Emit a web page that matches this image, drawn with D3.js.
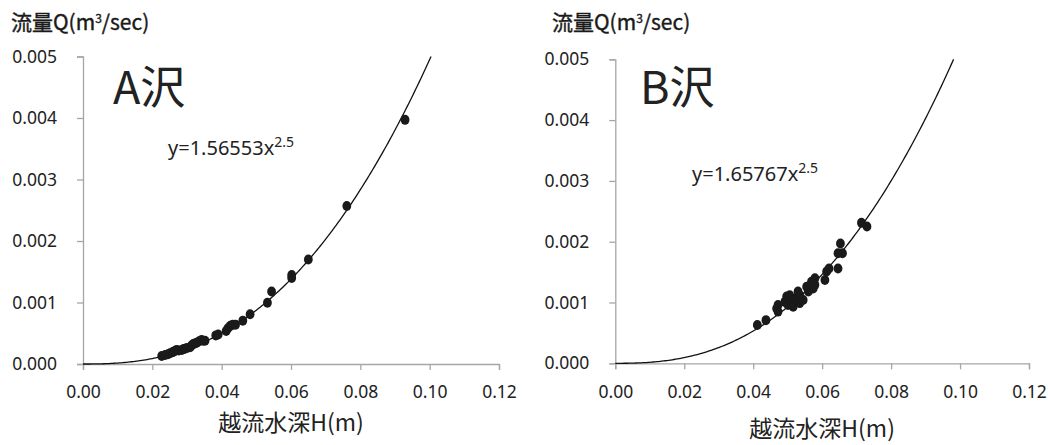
<!DOCTYPE html>
<html><head><meta charset="utf-8">
<script src="https://cdn.jsdelivr.net/npm/d3@7"></script>
<style>
html,body{margin:0;padding:0;background:#fff;}
svg{display:block;}
</style></head>
<body>
<svg id="chart" width="1048" height="445"></svg>
<script>
// ---- data ----
const siteNames = ["A沢", "B沢"];
const coefficients = [1.56553, 1.65767];
const exponent = 2.5;
const equationTexts = ["y=1.56553x", "y=1.65767x"];
const exponentText = "2.5";
const yAxisTitleParts = ["流量Q(m", "3", "/sec)"];
const xAxisTitle = "越流水深H(m)";
const xTickValues = [0, 0.02, 0.04, 0.06, 0.08, 0.10, 0.12];
const xTickLabels = ["0.00", "0.02", "0.04", "0.06", "0.08", "0.10", "0.12"];
const yTickValues = [0, 0.001, 0.002, 0.003, 0.004, 0.005];
const yTickLabels = ["0.000", "0.001", "0.002", "0.003", "0.004", "0.005"];

const hA = [0.0227,0.0237,0.0245,0.0251,0.0258,0.0261,0.0266,0.0270,0.0276,0.0285,0.0290,0.0294,0.0300,0.0309,0.0313,0.0318,0.0323,0.0328,0.0335,0.0342,0.0346,0.0352,0.0383,0.0390,0.0413,0.0418,0.0425,0.0432,0.0440,0.0461,0.0482,0.0532,0.0544,0.0602,0.0602,0.0650,0.0761,0.0929];
const qA = [0.000130,0.000146,0.000160,0.000174,0.000190,0.000200,0.000215,0.000228,0.000220,0.000228,0.000245,0.000249,0.000262,0.000271,0.000300,0.000325,0.000335,0.000347,0.000370,0.000390,0.000380,0.000379,0.000465,0.000480,0.000537,0.000580,0.000620,0.000640,0.000640,0.000705,0.000808,0.000997,0.001180,0.001400,0.001447,0.001700,0.002570,0.003970];

const hB = [0.0412,0.0437,0.0468,0.0472,0.0472,0.0492,0.0497,0.0501,0.0506,0.0511,0.0516,0.0526,0.0530,0.0535,0.0535,0.0545,0.0555,0.0560,0.0569,0.0574,0.0579,0.0579,0.0608,0.0613,0.0620,0.0646,0.0646,0.0659,0.0653,0.0714,0.0730];
const qB = [0.00063,0.00071,0.00090,0.00096,0.00085,0.00101,0.00110,0.00096,0.00112,0.00104,0.00093,0.00107,0.00118,0.00112,0.00099,0.00104,0.00126,0.00118,0.00134,0.00123,0.00140,0.00129,0.00137,0.00151,0.00156,0.00156,0.00181,0.00181,0.00197,0.00231,0.00225];

// ---- layout ----
const panels = [
  {name: siteNames[0], coef: coefficients[0], eq: equationTexts[0], h: hA, q: qA,
   x0: 83, x1: 499, y0: 364, y1: 56.5,
   yTitleX: 11, nameX: 113, nameY: 104, eqX: 168, eqY: 155, xTitleY: 431},
  {name: siteNames[1], coef: coefficients[1], eq: equationTexts[1], h: hB, q: qB,
   x0: 615.3, x1: 1029, y0: 363.3, y1: 59.3,
   yTitleX: 552, nameX: 640, nameY: 104, eqX: 692, eqY: 181, xTitleY: 437}
];

const svg = d3.select("#chart");
const axisColor = "#a6a6a6";
const numFont = "'Noto Sans', 'Open Sans', sans-serif";
const cjkFont = "'Noto Sans CJK JP', 'Noto Sans', sans-serif";

panels.forEach(p => {
  const x = d3.scaleLinear().domain([0, 0.12]).range([p.x0, p.x1]);
  const y = d3.scaleLinear().domain([0, 0.005]).range([p.y0, p.y1]);
  const g = svg.append("g");

  // y axis
  const yAxis = d3.axisLeft(y).tickValues(yTickValues)
    .tickFormat((d, i) => yTickLabels[i]).tickSizeOuter(0).tickSize(6).tickPadding(20);
  const ya = g.append("g").attr("transform", `translate(${p.x0},0)`).call(yAxis);
  ya.select(".domain").attr("stroke", axisColor).attr("stroke-width", 1.3);
  ya.selectAll(".tick line").attr("stroke", axisColor).attr("stroke-width", 1.3);
  ya.selectAll(".tick text").attr("fill", "#222").style("font-family", numFont).style("font-size", "17.5px");

  // x axis
  const xAxis = d3.axisBottom(x).tickValues(xTickValues)
    .tickFormat((d, i) => xTickLabels[i]).tickSizeOuter(0).tickSize(6).tickPadding(16);
  const xa = g.append("g").attr("transform", `translate(0,${p.y0})`).call(xAxis);
  xa.select(".domain").attr("stroke", axisColor).attr("stroke-width", 1.3);
  xa.selectAll(".tick line").attr("stroke", axisColor).attr("stroke-width", 1.3);
  xa.selectAll(".tick text").attr("fill", "#222").style("font-family", numFont).style("font-size", "17.5px");

  // trendline from equation
  const hMax = Math.pow(0.005 / p.coef, 1 / exponent);
  const hs = d3.range(0, hMax, 0.0005).concat([hMax]);
  const line = d3.line().x(d => x(d)).y(d => y(p.coef * Math.pow(d, exponent)));
  g.append("path").datum(hs).attr("d", line)
    .attr("fill", "none").attr("stroke", "#111").attr("stroke-width", 1.3);

  // points
  g.selectAll("ellipse.pt").data(p.h.map((h, i) => [h, p.q[i]])).join("ellipse")
    .attr("class", "pt")
    .attr("cx", d => x(d[0])).attr("cy", d => y(d[1]))
    .attr("rx", 4.4).attr("ry", 5).attr("fill", "#1a1a1a");

  // y axis title
  const yt = g.append("text").attr("x", p.yTitleX).attr("y", 30)
    .style("font-family", cjkFont).style("font-size", "21px")
    .attr("fill", "#1a1a1a").attr("stroke", "#1a1a1a").attr("stroke-width", 0.4);
  yt.append("tspan").text(yAxisTitleParts[0]);
  yt.append("tspan").attr("dy", -7).style("font-size", "12px").text(yAxisTitleParts[1]);
  yt.append("tspan").attr("dy", 7).text(yAxisTitleParts[2]);

  // x axis title
  g.append("text").attr("x", (p.x0 + p.x1) / 2).attr("y", p.xTitleY)
    .attr("text-anchor", "middle")
    .style("font-family", cjkFont).style("font-size", "23px")
    .attr("fill", "#222").text(xAxisTitle);

  // site name
  g.append("text").attr("x", p.nameX).attr("y", p.nameY)
    .style("font-family", cjkFont).style("font-size", "45px")
    .attr("fill", "#222").text(p.name);

  // equation
  const eq = g.append("text").attr("x", p.eqX).attr("y", p.eqY)
    .style("font-family", numFont).style("font-size", "20px").attr("fill", "#222");
  eq.append("tspan").text(p.eq);
  eq.append("tspan").attr("dy", -8).style("font-size", "14px").text(exponentText);
});
</script>
</body></html>
